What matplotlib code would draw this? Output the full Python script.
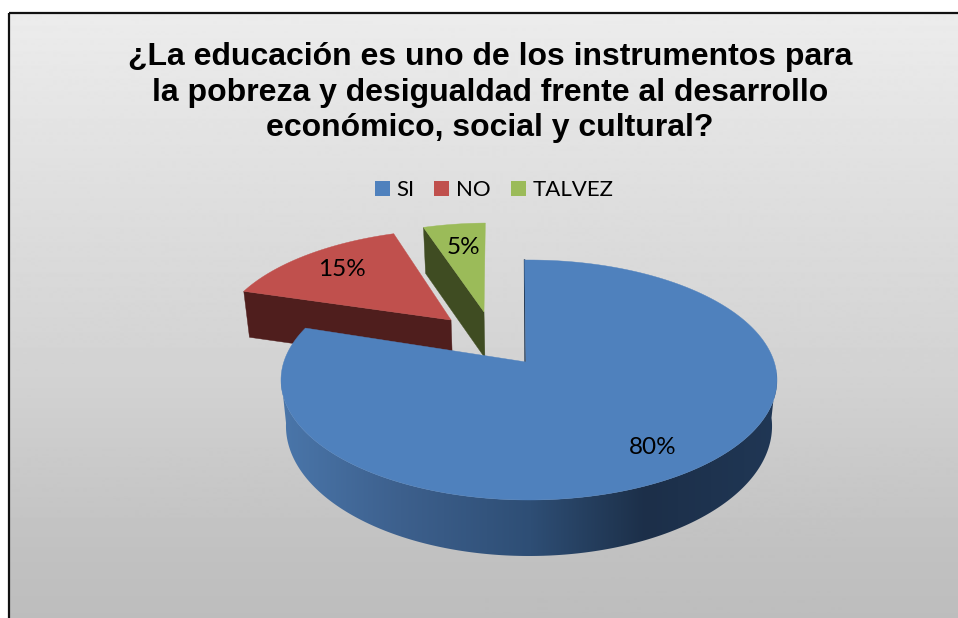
import numpy as np
import matplotlib
matplotlib.use("Agg")
import matplotlib.pyplot as plt
from matplotlib.patches import Polygon, Rectangle, Patch

# ---- data ----
categories = ["SI", "NO", "TALVEZ"]
values = [80, 15, 5]
title = ("¿La educación es uno de los instrumentos para\n"
         "la pobreza y desigualdad frente al desarrollo\n"
         "económico, social y cultural?")

# ---- styles ----
top_colors = ["#4f81bd", "#c0504d", "#9bbb59"]
wall_colors = [None, "#4f1e1d", "#3f4c22"]
plane_offsets = [(0.0, 0.0), (-0.336, 0.378), (-0.196, 0.456)]
slice_radius = [1.0, 0.985, 0.985]
end_rotation = [-0.4, -1.2, -1.2]
label_positions = [(653, 448), (342, 270), (463, 248)]
W, H = 958, 618
CX, CY, RX, RY, P = 529.0, 380.0, 248.0, 120.0, 0.15
ROT = -1.2
S = np.sqrt(1 - P ** 2)


def project(u, v):
    den = 1 + P * v
    return CX + RX * u * S / den, CY - RY * (v + P) / den


def drop(x, y):
    """Lower face of the disc for a point of the upper face."""
    return x + (CX - x) * 0.02, y + 46 + np.maximum(0, y - CY) / 12


def rim(a0, a1, off, r=1.0, rot1=ROT, n=240):
    a = np.radians(np.linspace(a0 + ROT, a1 + rot1, n))
    return project(off[0] + r * np.sin(a), off[1] + r * np.cos(a))


fig = plt.figure(figsize=(W / 100, H / 100), dpi=100, facecolor="white")
ax = fig.add_axes([0, 0, 1, 1])
ax.axis("off")

# background gradient and frame
gy = np.array([13, 200, 380, 550, 618])
gv = np.array([236, 222, 210, 193, 189]) / 255
ys = np.arange(13, 619)
ax.imshow(np.interp(ys, gy, gv)[:, None], cmap="gray", vmin=0, vmax=1,
          extent=(9, 962, 618, 13), aspect="auto", zorder=0)
ax.add_patch(Rectangle((9, 13), 960, 620, fill=False, ec="#111111", lw=1.6, zorder=1))

# slices, back to front
fractions = np.array(values) / sum(values)
ends = np.cumsum(fractions) * 360
starts = ends - fractions * 360
for i in [1, 2, 0]:
    off = plane_offsets[i]
    ax_, ay_ = project(*off)
    rx_, ry_ = rim(starts[i], ends[i], off, slice_radius[i], end_rotation[i])
    if i == 0:
        ax_, ay_ = project(-0.012, 0.0)
        # front wall with left-to-right shading
        wa0, wa1 = 96, 264
        tx, ty = rim(wa0, wa1, off)
        bx, by = drop(tx, ty)
        poly = Polygon(np.r_[np.c_[tx, ty], np.c_[bx, by][::-1]], closed=True,
                       fc="none", ec="none", zorder=3, transform=ax.transData)
        ax.add_patch(poly)
        sx = np.array([281, 400, 530, 620, 645, 777])
        sc = np.array([(74, 118, 170), (61, 96, 141), (46, 78, 117),
                       (32, 54, 82), (28, 47, 73), (32, 55, 85)]) / 255
        xs = np.arange(281, 778)
        grad = np.stack([np.interp(xs, sx, sc[:, k]) for k in range(3)], axis=1)[None, :, :]
        im = ax.imshow(grad, extent=(281, 778, 600, 300), aspect="auto", zorder=3)
        im.set_clip_path(poly)
        ax.plot([rx_[0], ax_ - 1], [ry_[0], ay_], color="#1f3550", lw=1.0, zorder=3)
    else:
        # cut face seen from the left
        px = np.array([ax_, rx_[0]])
        py = np.array([ay_, ry_[0]])
        qx, qy = drop(px, py)
        ax.add_patch(Polygon(np.c_[np.r_[px, qx[::-1]], np.r_[py, qy[::-1]]],
                             closed=True, fc=wall_colors[i], ec=wall_colors[i],
                             lw=0.3, zorder=2))
    ax.add_patch(Polygon(np.c_[np.r_[ax_, rx_], np.r_[ay_, ry_]], closed=True,
                         fc=top_colors[i], ec=top_colors[i], lw=0.3,
                         zorder=4 if i == 0 else 2.5))

# data labels
for v, (lx, ly) in zip(values, label_positions):
    ax.text(lx, ly, f"{v}%", ha="center", va="center", family="Lato",
            fontsize=17.5, color="black", zorder=6)

# title
ax.text(490, 92.5, title, ha="center", va="center", family="Liberation Sans",
        fontweight="bold", fontsize=23, linespacing=1.22, color="black", zorder=6)

# legend
handles = [Patch(fc=c, ec="none") for c in top_colors]
leg = ax.legend(handles, categories, ncols=3, loc="center",
                bbox_to_anchor=(494 / W, 1 - 190 / H), frameon=False,
                prop={"family": "Lato", "size": 16}, handlelength=0.67,
                handleheight=0.67, handletextpad=0.3, columnspacing=0.9,
                borderpad=0)

ax.set_xlim(0, W)
ax.set_ylim(H, 0)
fig.savefig("out.png", dpi=100, facecolor="white")
